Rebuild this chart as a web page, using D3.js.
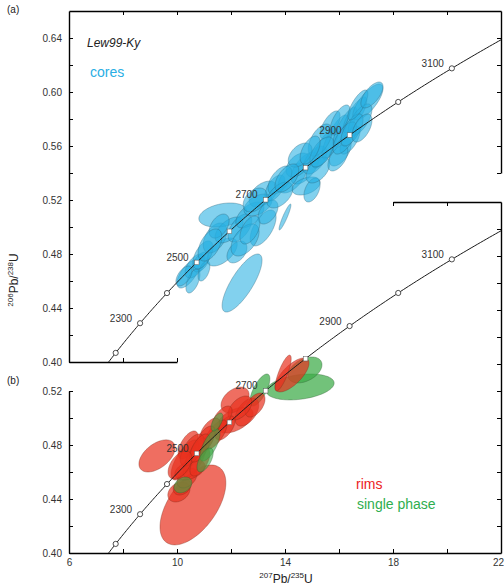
<!DOCTYPE html>
<html><head><meta charset="utf-8">
<script src="https://cdn.jsdelivr.net/npm/d3@7"></script>
<style>body{margin:0;background:#fff}svg{display:block}text{font-family:"Liberation Sans",Arial,Helvetica,sans-serif}</style>
</head><body><svg id="c" width="504" height="588"></svg>
<script>
// ---- data: cores (panel a) : 207Pb/235U, 206Pb/238U, 2-sigma errors, error correlation
const coreX   = [10.41,10.67,10.89,10.59,10.26,11.00,12.41,11.67,10.96,11.41,12.22,11.70,11.93,12.33,11.56,13.19,14.00,12.70,13.19,13.00,13.63,13.37,14.26,14.74,14.78,14.48,15.00,15.11,15.48,15.85,16.22,16.04,16.59,17.07,16.41,15.67,
                 11.22,12.52,12.89,13.81,15.30,16.78,14.56,12.70,13.81,14.07,15.22,15.37,14.93,15.96,16.22,16.48,16.85,16.04,16.70,17.22];
const coreY   = [0.4652,0.4711,0.4741,0.4600,0.4637,0.4674,0.4585,0.4815,0.4793,0.4919,0.4815,0.5089,0.4978,0.4993,0.5007,0.4993,0.5074,0.5089,0.5244,0.5163,0.5289,0.5111,0.5363,0.5437,0.5304,0.5459,0.5274,0.5496,0.5585,0.5667,0.5741,0.5556,0.5830,0.5926,0.5644,0.5756,
                 0.4867,0.4904,0.5200,0.5348,0.5644,0.5793,0.5533,0.4978,0.5237,0.5363,0.5422,0.5556,0.5570,0.5511,0.5659,0.5719,0.5733,0.5793,0.5904,0.5978];
const coreSx  = [0.41,0.37,0.30,0.26,0.30,0.22,0.74,0.56,0.37,0.44,0.37,0.89,0.52,0.44,0.37,0.48,0.22,0.52,0.52,0.52,0.37,0.37,0.52,0.52,0.52,0.44,0.30,0.44,0.48,0.48,0.44,0.41,0.44,0.56,0.37,0.37,
                 0.44,0.52,0.44,0.44,0.44,0.44,0.44,0.37,0.48,0.44,0.44,0.44,0.37,0.37,0.44,0.41,0.37,0.37,0.37,0.41];
const coreSy  = [0.0104,0.0089,0.0074,0.0089,0.0074,0.0074,0.0215,0.0104,0.0104,0.0111,0.0081,0.0089,0.0096,0.0104,0.0089,0.0133,0.0096,0.0096,0.0096,0.0081,0.0096,0.0089,0.0111,0.0119,0.0067,0.0089,0.0089,0.0104,0.0148,0.0163,0.0148,0.0104,0.0133,0.0133,0.0104,0.0104,
                 0.0119,0.0119,0.0089,0.0104,0.0119,0.0119,0.0089,0.0104,0.0096,0.0104,0.0096,0.0111,0.0104,0.0096,0.0119,0.0119,0.0104,0.0111,0.0111,0.0096];
const coreRho = [0.65,0.55,0.5,0.55,0.55,0.5,0.78,0.55,0.55,0.45,0.4,0.3,0.55,0.55,0.45,0.6,0.92,0.55,0.45,0.45,0.55,0.45,0.55,0.6,0.4,0.45,0.45,0.55,0.75,0.8,0.8,0.55,0.8,0.75,0.65,0.65,
                 0.5,0.5,0.4,0.55,0.55,0.65,0.45,0.5,0.5,0.55,0.5,0.55,0.55,0.55,0.65,0.65,0.55,0.65,0.75,0.65];

// ---- data: rims (panel b)
const rimX   = [10.59,9.26,10.07,10.19,10.37,14.26,13.93,12.15,12.15,12.59,12.89,12.33,11.78,11.67,11.41,11.22,11.04,10.41,10.30,10.67,10.48,10.85,10.56,10.85,10.11];
const rimY   = [0.4356,0.4719,0.4452,0.4489,0.4556,0.5319,0.5333,0.4985,0.5133,0.5044,0.5096,0.5074,0.4926,0.5000,0.4874,0.4911,0.4837,0.4800,0.4689,0.4704,0.4615,0.4674,0.4763,0.4778,0.4652];
const rimSx  = [1.22,0.67,0.41,0.33,0.37,0.63,0.30,0.67,0.52,0.44,0.37,0.44,0.37,0.37,0.44,0.37,0.37,0.37,0.52,0.44,0.56,0.37,0.44,0.37,0.44];
const rimSy  = [0.0296,0.0119,0.0074,0.0059,0.0074,0.0126,0.0133,0.0096,0.0096,0.0104,0.0089,0.0089,0.0089,0.0089,0.0111,0.0089,0.0104,0.0104,0.0148,0.0148,0.0074,0.0104,0.0119,0.0104,0.0104];
const rimRho = [0.55,0.5,0.3,0.3,0.4,0.7,0.8,0.5,0.4,0.5,0.5,0.5,0.6,0.6,0.7,0.6,0.6,0.6,0.7,0.7,0.4,0.6,0.6,0.6,0.5];

// ---- data: single phase (panel b); first three lie beneath the rims, the rest above
const singleX   = [14.56,14.74,13.07,11.22,11.04,10.22,11.48];
const singleY   = [0.5230,0.5356,0.5207,0.4800,0.4689,0.4504,0.4970];
const singleSx  = [1.26,0.63,0.37,0.37,0.30,0.33,0.22];
const singleSy  = [0.0096,0.0096,0.0119,0.0119,0.0089,0.0059,0.0067];
const singleRho = [0.3,0.4,0.7,0.7,0.6,0.3,0.6];

// ---- ticks / labels
const xTicks = [6,8,10,12,14,16,18,20,22];
const xTickLabels = [6,10,14,18,22];
const yTicks = [0.40,0.42,0.44,0.46,0.48,0.50,0.52,0.54,0.56,0.58,0.60,0.62,0.64];
const yTickLabels = [0.40,0.44,0.48,0.52,0.56,0.60,0.64];
const concordiaAges = [2200,2300,2400,2500,2600,2700,2800,2900,3000,3100];
const labelledAges = [2300,2500,2700,2900,3100];
const squareAgesA = [2500,2600,2700,2800,2900];
const squareAgesB = [2500,2600,2700,2800];
const L238 = 1.55125e-10, L235 = 9.8485e-10;

const svg = d3.select("#c");
const x  = d3.scaleLinear().domain([6,22]).range([69,501]);
const yA = d3.scaleLinear().domain([0.40,0.66]).range([362,11]);
const yB = d3.scaleLinear().domain([0.40,0.66]).range([553,202]);

const defs = svg.append("defs");
defs.append("clipPath").attr("id","clipA").append("rect").attr("x",69).attr("y",11).attr("width",432).attr("height",351);
defs.append("clipPath").attr("id","clipB").append("rect").attr("x",69).attr("y",202).attr("width",432).attr("height",351);

const cx = t => Math.exp(L235*t*1e6)-1;
const cy = t => Math.exp(L238*t*1e6)-1;

function ageLabels(g, ys){
  labelledAges.forEach(t=>{
    g.append("text").attr("x",x(cx(t))-8).attr("y",ys(cy(t))-1.5)
      .attr("text-anchor","end").attr("font-size",10).attr("fill","#333").text(t);
  });
}

function ellPath(ex,ey,sx,sy,r,ys){
  const k = Math.sqrt(1-r*r);
  const pts = d3.range(0,97).map(i=>{const t=i/96*2*Math.PI;
    return [x(ex+sx*Math.cos(t)), ys(ey+sy*(r*Math.cos(t)+k*Math.sin(t)))];});
  return d3.line()(pts)+"Z";
}
function drawEllipses(g, idx, X, Y, SX, SY, R, ys, fill, op, stroke){
  g.selectAll(null).data(idx).enter().append("path")
    .attr("d", i=>ellPath(X[i],Y[i],SX[i],SY[i],R[i],ys))
    .attr("fill", fill).attr("fill-opacity", op)
    .attr("stroke", stroke).attr("stroke-width",0.5).attr("stroke-opacity",0.7);
}

const gA = svg.append("g").attr("clip-path","url(#clipA)");
const gB = svg.append("g").attr("clip-path","url(#clipB)");
drawEllipses(gA, d3.range(coreX.length), coreX, coreY, coreSx, coreSy, coreRho, yA, "rgb(40,175,225)", 0.58, "#2f5f72");
drawEllipses(gB, [0,1,2], singleX, singleY, singleSx, singleSy, singleRho, yB, "rgb(60,170,70)", 0.72, "#2f5a30");
drawEllipses(gB, d3.range(rimX.length), rimX, rimY, rimSx, rimSy, rimRho, yB, "rgb(232,48,30)", 0.7, "#7a2a1a");
drawEllipses(gB, [3,4,5,6], singleX, singleY, singleSx, singleSy, singleRho, yB, "rgb(60,170,70)", 0.6, "#2f5a30");

// concordia curve
const tSeries = d3.range(2000, 3301, 5);
function drawConcordia(g, ys, squares){
  g.append("path").attr("d", d3.line().x(t=>x(cx(t))).y(t=>ys(cy(t)))(tSeries))
    .attr("fill","none").attr("stroke","#1a1a1a").attr("stroke-width",1);
  concordiaAges.filter(t=>x(cx(t))<=501).forEach(t=>{
    const px=x(cx(t)), py=ys(cy(t));
    if(squares.includes(t)){
      g.append("rect").attr("x",px-2.3).attr("y",py-2.3).attr("width",4.6).attr("height",4.6)
        .attr("fill","#fff").attr("stroke","#555").attr("stroke-width",0.5);
    } else {
      g.append("circle").attr("cx",px).attr("cy",py).attr("r",2.6)
        .attr("fill","#fff").attr("stroke","#222").attr("stroke-width",0.8);
    }
  });
}
drawConcordia(gA, yA, squareAgesA);
drawConcordia(gB, yB, squareAgesB);
ageLabels(svg.append("g"), yA);
ageLabels(svg.append("g"), yB);

// axes
function styleAxis(g){
  g.selectAll(".domain").attr("stroke","#000").attr("stroke-width",1.4);
  g.selectAll(".tick line").attr("stroke","#000").attr("stroke-width",1);
  g.selectAll(".tick text").attr("font-size",10).attr("fill","#333")
    .attr("font-family","'Liberation Sans',Arial,sans-serif");
}
const fmtY = d => yTickLabels.some(v=>Math.abs(v-d)<1e-6) ? d3.format(".2f")(d) : "";
const fmtX = d => xTickLabels.includes(d) ? d : "";
const between = (arr,a,b)=>arr.filter(v=>v>=a-1e-9 && v<=b+1e-9);

// panel a
svg.append("g").attr("transform","translate(69,0)")
  .call(d3.axisLeft(yA).tickValues(yTicks).tickSize(-4).tickSizeOuter(0).tickPadding(7).tickFormat(fmtY)).call(styleAxis);
svg.append("g").attr("transform","translate(0,11)")
  .call(d3.axisTop(x).tickValues(between(xTicks,8,20)).tickSize(-4).tickSizeOuter(0).tickFormat("")).call(styleAxis);
const yAr = yA.copy().domain([0.54,0.66]).range([yA(0.54),yA(0.66)]);
svg.append("g").attr("transform","translate(501,0)")
  .call(d3.axisRight(yAr).tickValues(between(yTicks,0.54,0.64)).tickSize(-4).tickSizeOuter(0).tickFormat("")).call(styleAxis);
const xAb = x.copy().domain([6,10]).range([x(6),x(10)]);
svg.append("g").attr("transform","translate(0,362)")
  .call(d3.axisBottom(xAb).tickValues([8,10]).tickSize(-4).tickSizeOuter(0).tickFormat("")).call(styleAxis);

// panel b
const yBl = yB.copy().domain([0.40,0.52]).range([yB(0.40),yB(0.52)]);
svg.append("g").attr("transform","translate(69,0)")
  .call(d3.axisLeft(yBl).tickValues(between(yTicks,0.40,0.52)).tickSize(-4).tickSizeOuter(0).tickPadding(7).tickFormat(fmtY)).call(styleAxis);
const xBt = x.copy().domain([18,22]).range([x(18),x(22)]);
svg.append("g").attr("transform","translate(0,202)")
  .call(d3.axisTop(xBt).tickValues([18,20]).tickSize(-4).tickSizeOuter(0).tickFormat("")).call(styleAxis);
svg.append("g").attr("transform","translate(501,0)")
  .call(d3.axisRight(yB).tickValues(between(yTicks,0.42,0.64)).tickSize(-4).tickSizeOuter(0).tickFormat("")).call(styleAxis);
const bx = svg.append("g").attr("transform","translate(0,553)")
  .call(d3.axisBottom(x).tickValues(xTicks).tickSize(-4).tickSizeOuter(0).tickPadding(6).tickFormat(fmtX)).call(styleAxis);
bx.selectAll(".tick text").filter(d=>d===22).attr("dx",-3);

// titles and annotations
svg.append("text").attr("x",7).attr("y",13).attr("font-size",10).attr("fill","#222").text("(a)");
svg.append("text").attr("x",7).attr("y",384).attr("font-size",10).attr("fill","#222").text("(b)");
svg.append("text").attr("x",87).attr("y",47).attr("font-size",12).attr("font-style","italic").attr("fill","#222").text("Lew99-Ky");
svg.append("text").attr("x",90).attr("y",77).attr("font-size",14).attr("fill","#29aee4").text("cores");
svg.append("text").attr("x",356).attr("y",489).attr("font-size",14).attr("fill","#ec1c24").text("rims");
svg.append("text").attr("x",357).attr("y",509).attr("font-size",14).attr("fill","#2eae4e").text("single phase");

function ratioTitle(t, a, b){
  t.append("tspan").attr("font-size",8).attr("dy",-5).text(a);
  t.append("tspan").attr("dy",5).text("Pb/");
  t.append("tspan").attr("font-size",8).attr("dy",-5).text(b);
  t.append("tspan").attr("dy",5).text("U");
}
const xt = svg.append("text").attr("x",286).attr("y",583).attr("text-anchor","middle").attr("font-size",12).attr("fill","#222");
ratioTitle(xt,"207","235");
const yt = svg.append("text").attr("transform","translate(18,280) rotate(-90)").attr("text-anchor","middle").attr("font-size",12).attr("fill","#222");
ratioTitle(yt,"206","238");
</script></body></html>
